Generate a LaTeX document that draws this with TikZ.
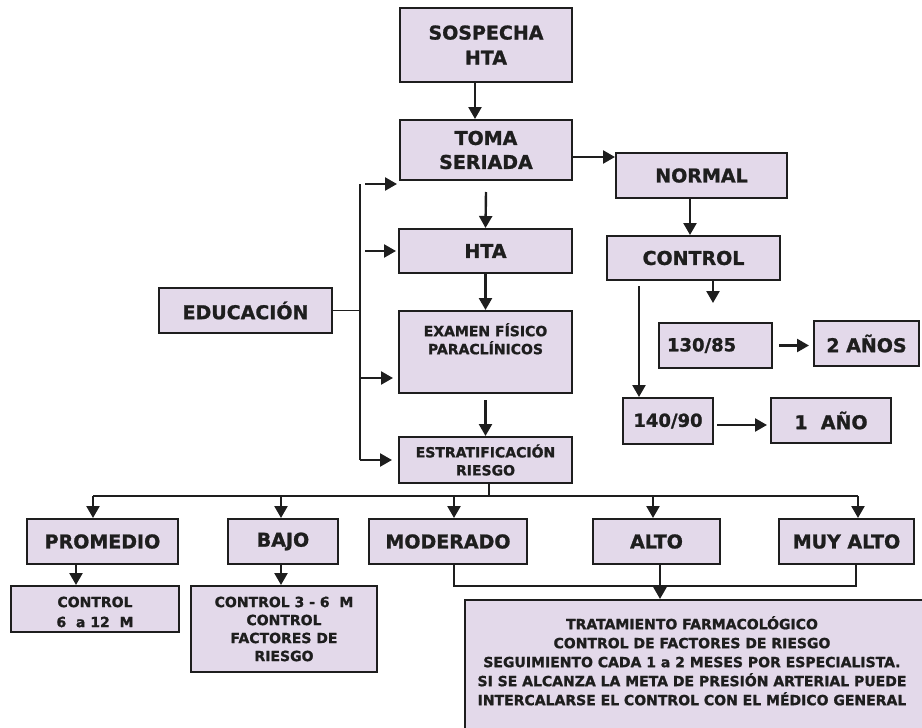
\documentclass[tikz,border=0pt]{standalone}
\usepackage{fontspec}
\setmainfont{DejaVu Sans}[BoldFont={DejaVu Sans Bold}, BoldFeatures={FakeBold=1.2}]
\usetikzlibrary{arrows.meta}
\definecolor{boxfill}{HTML}{E3D9EA}
\definecolor{ink}{HTML}{1E1E1E}
\begin{document}
\begin{tikzpicture}[x=1pt,y=-1pt,
  box/.style={draw=ink, line width=2pt, fill=boxfill, inner sep=0pt, align=center, text=ink, font=\bfseries\fontsize{19}{24}\selectfont},
  small/.style={font=\bfseries\fontsize{14}{18}\selectfont},
  txt/.style={inner sep=0pt, align=center, text=ink},
  arr/.style={draw=ink, line width=2.4pt, -{Triangle[width=13pt,length=12pt]}},
  ln/.style={draw=ink, line width=1.6pt}]
\useasboundingbox (0,0) rectangle (922,728);

% main column
\node[box, minimum width=172pt, minimum height=74pt, font=\bfseries\fontsize{19}{25}\selectfont] (sosp) at (486,45) {SOSPECHA\\HTA};
\node[box, minimum width=172pt, minimum height=60pt] (toma) at (486,150) {TOMA\\SERIADA};
\node[box, minimum width=173pt, minimum height=44pt] (hta) at (485.5,251) {HTA};
\node[box, minimum width=173pt, minimum height=82pt] (exam) at (485.5,352) {};
\node[txt, small, anchor=north] (examt) at (485.5,323) {EXAMEN FÍSICO\\PARACLÍNICOS};
\node[box, small, minimum width=173pt, minimum height=46pt] (estr) at (485.5,460) {ESTRATIFICACIÓN\\RIESGO};

% right column
\node[box, minimum width=171pt, minimum height=45pt] (normal) at (701.5,175.5) {NORMAL};
\node[box, minimum width=173pt, minimum height=44pt] (control) at (693.5,258) {CONTROL};
\node[box, minimum width=113pt, minimum height=45pt, text width=97pt, align=left, font=\bfseries\fontsize{18}{22}\selectfont] (p130) at (715.5,345.5) {130/85};
\node[box, minimum width=105pt, minimum height=45pt] (anos2) at (866.5,343.5) {2 AÑOS};
\node[box, minimum width=90pt, minimum height=46pt, font=\bfseries\fontsize{18}{22}\selectfont] (p140) at (668,421) {140/90};
\node[box, minimum width=120pt, minimum height=45pt] (ano1) at (831,420.5) {1\ \ AÑO};

% left
\node[box, minimum width=173pt, minimum height=45pt] (edu) at (245.5,310.5) {EDUCACIÓN};

% risk row
\node[box, minimum width=151pt, minimum height=45pt] (prom) at (102.5,541.5) {PROMEDIO};
\node[box, minimum width=110pt, minimum height=45pt] (bajo) at (283,541.5) {BAJO};
\node[box, minimum width=158pt, minimum height=45pt] (mod) at (448,541.5) {MODERADO};
\node[box, minimum width=127pt, minimum height=45pt] (alto) at (656.5,541.5) {ALTO};
\node[box, minimum width=135pt, minimum height=45pt] (muy) at (846.5,541.5) {MUY ALTO};

% bottom boxes
\node[box, minimum width=168pt, minimum height=46pt] (c612) at (95,609) {};
\node[txt, font=\bfseries\fontsize{14}{20}\selectfont] (c612t) at (95,612) {CONTROL\\6\ \ a 12\ \ M};
\node[box, small, minimum width=186pt, minimum height=86pt] (c36) at (284,629) {CONTROL 3 - 6\ \ M\\CONTROL\\FACTORES DE\\RIESGO};
\node[box, minimum width=459pt, minimum height=160pt] (trat) at (694.5,680) {};
\node[txt, font=\bfseries\fontsize{14}{19}\selectfont, anchor=north] (tratt) at (692,616) {TRATAMIENTO FARMACOLÓGICO\\CONTROL DE FACTORES DE RIESGO\\SEGUIMIENTO CADA 1 a 2 MESES POR ESPECIALISTA.\\SI SE ALCANZA LA META DE PRESIÓN ARTERIAL PUEDE\\INTERCALARSE EL CONTROL CON EL MÉDICO GENERAL};

% main column arrows
\draw[arr] ([xshift=-11pt]sosp.south) -- ([xshift=-11pt]toma.north);
\draw[arr] ([yshift=-11pt]toma.south) -- (hta.north);
\draw[arr] (hta.south) -- (exam.north);
\draw[arr] ([yshift=-6pt]exam.south) -- (estr.north);

% right column arrows
\draw[arr] ([yshift=-7pt]toma.east) -- ([yshift=-7pt]toma.east -| normal.west);
\draw[arr] ([xshift=-11.5pt]normal.south) -- ([xshift=-11.5pt]normal.south |- control.north);
\coordinate (cfree) at (713,303);
\draw[arr] (control.south -| cfree) -- (cfree);
\draw[arr] ([xshift=-54.5pt,yshift=-5pt]control.south) -- ([xshift=-54.5pt]control.south |- p140.north);
\draw[arr] ([xshift=6pt]p130.east) -- ([xshift=-4pt]p130.east -| anos2.west);
\draw[arr] ([xshift=3pt,yshift=-4pt]p140.east) -- ([xshift=-3pt,yshift=-4pt]p140.east -| ano1.west);

% education bus
\coordinate (ebt) at (360,184);
\coordinate (ebb) at (360,460);
\coordinate (e1) at (397,184);
\coordinate (e3) at (393,378);
\draw[ln] (edu.east) -- (edu.east -| ebt);
\draw[ln] (ebt) -- (ebb);
\draw[arr] ([xshift=5pt]ebt) -- (e1);
\draw[arr] ([xshift=5pt]ebt |- hta.west) -- ([xshift=-2pt]hta.west);
\draw[arr] (ebt |- e3) -- (e3);
\draw[arr] (ebb) -- ([xshift=-6pt]ebb -| estr.west);

% risk bus
\coordinate (rb) at (489,496);
\coordinate (rl) at (93,496);
\coordinate (rr) at (858,496);
\draw[ln] ([xshift=3.5pt]estr.south) -- (rb);
\draw[ln] (rl) -- (rr);
\draw[arr] (rl) -- (rl |- prom.north);
\draw[arr] ([xshift=-2pt]bajo.north |- rl) -- ([xshift=-2pt]bajo.north);
\draw[arr] ([xshift=6pt]mod.north |- rl) -- ([xshift=6pt]mod.north);
\draw[arr] ([xshift=-3.5pt]alto.north |- rl) -- ([xshift=-3.5pt]alto.north);
\draw[arr] (rr) -- (rr |- muy.north);

% lower arrows
\draw[arr] ([xshift=-26.5pt]prom.south) -- ([xshift=-26.5pt]prom.south |- c612.north);
\draw[arr] ([xshift=-2pt]bajo.south) -- ([xshift=-2pt]bajo.south |- c36.north);
\coordinate (tb) at (660,586);
\draw[ln] ([xshift=6pt]mod.south) -- ([xshift=6pt]mod.south |- tb) -- ([xshift=9.5pt]muy.south |- tb) -- ([xshift=9.5pt]muy.south);
\draw[ln] ([xshift=3.5pt]alto.south) -- (tb);
\draw[arr] (tb) -- (tb |- trat.north);
\end{tikzpicture}
\end{document}
